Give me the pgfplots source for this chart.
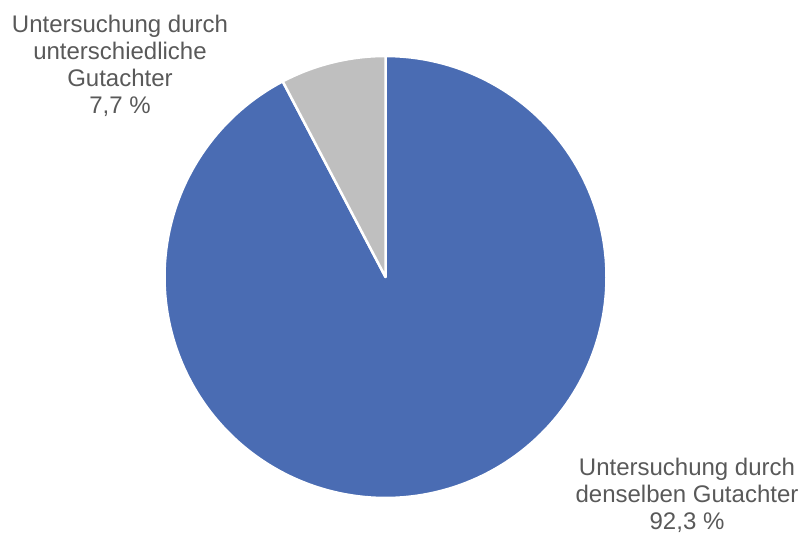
\documentclass[border=0pt]{standalone}
\usepackage{pgfplots}
\pgfplotsset{compat=1.18}
\usepackage{fontspec}
\setmainfont{Liberation Sans}
\definecolor{pieblue}{HTML}{4A6CB3}
\definecolor{piegray}{HTML}{BFBFBF}
\definecolor{txtgray}{HTML}{595959}
% values in percent
\def\valSame{92.3}
\def\valDiff{7.7}
\begin{document}
\begin{tikzpicture}
\begin{axis}[
  width=803pt, height=533pt, scale only axis,
  xmin=0, xmax=803, ymin=0, ymax=533,
  hide axis, clip=false,
]
\pgfmathsetmacro{\angA}{90+\valDiff*3.6}
% blue slice: Untersuchung durch denselben Gutachter
\addplot[fill=pieblue, draw=white, line width=2.5pt, line join=round, domain=\angA:450, samples=200, variable=\t]
  ({385.5+221*cos(\t)},{256+221*sin(\t)}) -- (385.5,256) -- cycle;
% gray slice: Untersuchung durch unterschiedliche Gutachter
\addplot[fill=piegray, draw=white, line width=2.5pt, line join=round, domain=90:\angA, samples=30, variable=\t]
  ({385.5+221*cos(\t)},{256+221*sin(\t)}) -- (385.5,256) -- cycle;
\node[align=center, text=txtgray, font=\fontsize{24}{27}\selectfont] at (120,467.5)
  {Untersuchung durch\\unterschiedliche\\Gutachter\\7,7 \%};
\node[align=center, text=txtgray, font=\fontsize{24}{27}\selectfont] at (687,38)
  {Untersuchung durch\\denselben Gutachter\\92,3 \%};
\end{axis}
\pgfresetboundingbox
\path (current axis.south west) rectangle (current axis.north east);
\end{tikzpicture}
\end{document}
